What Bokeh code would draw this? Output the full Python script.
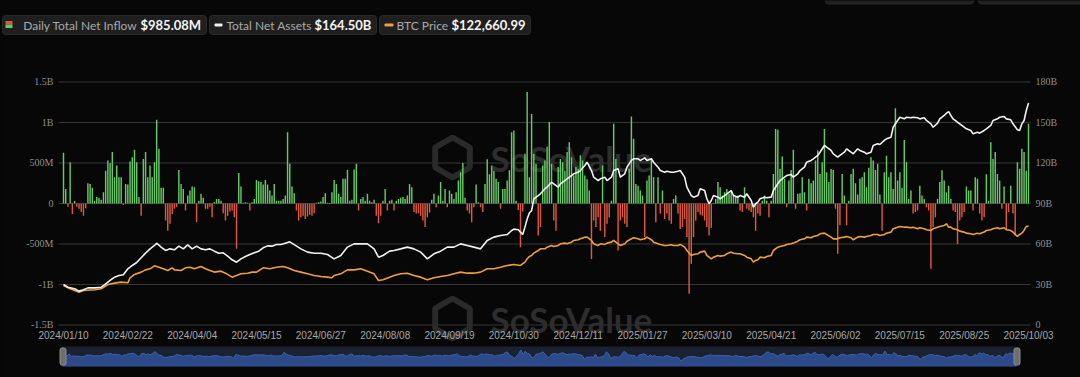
from bokeh.plotting import figure
from bokeh.models import Range1d, LinearAxis, FixedTicker, ColumnDataSource, Label, BoxAnnotation
from bokeh.embed import file_html
from bokeh.resources import INLINE
from bokeh.core.properties import value

# ---------------- data ----------------
date_labels = ["2024/01/10", "2024/02/22", "2024/04/04", "2024/05/15", "2024/06/27",
               "2024/08/08", "2024/09/19", "2024/10/30", "2024/12/11", "2025/01/27",
               "2025/03/10", "2025/04/21", "2025/06/02", "2025/07/15", "2025/08/25",
               "2025/10/03"]

series_names = ["Daily Total Net Inflow", "Total Net Assets", "BTC Price"]

# daily total net inflow, million USD (one value per trading day)
inflow_m = [
    625, 180, -40, 510, -130, 30, -40, -65, -105, -150,
    -60, 250, 240, 195, 35, 80, 70, 45, 140, 405,
    530, 500, 635, 325, 470, 325, 325, -20, 240, 235,
    520, 570, 665, 510, 80, -150, 550, 635, 325, 470,
    325, 510, 1035, 675, 195, 195, -210, -335, -250, -130,
    -65, -40, 415, 240, 180, -85, 100, 160, 210, 200,
    -230, 35, 120, 70, -65, -65, -40, -170, 20, 55,
    55, 35, -120, -210, -150, -100, -85, -170, -560, 375,
    210, 10, 15, 10, -85, 15, 55, 290, 275, 265,
    235, 290, 235, 160, 100, 240, 35, 35, 35, 55,
    100, 880, 490, 210, 125, -85, -210, -170, -150, -190,
    -160, -140, -150, -120, 10, 15, 25, 80, 125, 10,
    5, 140, 290, 240, 120, 80, 305, 305, 415, 35,
    45, 420, 490, -85, 55, 80, 35, 120, 35, 15,
    45, -150, -245, -150, 35, 180, -85, 35, 45, -85,
    35, 55, 70, 80, 55, 100, 240, 200, -105, -125,
    -120, -150, -210, -290, -170, -110, 45, 120, -45, 100,
    265, 35, 180, -45, 160, 120, 55, 140, 285, 385,
    500, 70, -85, -125, -230, -45, 235, 15, -45, -105,
    240, 545, 360, 470, 405, 305, 265, -65, 180, 180,
    285, 410, 880, 900, 35, -80, -540, -100, 615, 1375,
    325, 1105, 610, 490, -395, -290, 470, 530, 700, 1005,
    490, -210, -335, 450, 550, 510, 405, 635, 755, 570,
    345, 450, 430, 595, 530, 345, 300, 160, -685, -210,
    -290, -170, -335, 470, -415, -250, -170, 35, 985, 550,
    -580, -210, -170, -250, -290, 430, 1075, 800, 240, 220,
    160, 100, -415, 285, 345, 550, 325, -230, 325, -125,
    160, -190, -125, -210, -250, 55, 100, -125, -315, -290,
    -190, -415, -1115, -745, -415, -210, -105, -140, -150, -210,
    -290, -395, -300, 5, 55, 265, 200, 100, 140, 180,
    120, 160, 100, 80, 100, -85, -105, 200, -65, -85,
    -105, -170, -335, -125, -150, 35, 100, 35, -170, 35,
    365, 920, 910, 430, 580, 305, -45, 285, 415, 665,
    -65, 120, 125, 325, 140, -85, 305, 250, 285, 530,
    655, 365, 510, 920, 385, 265, 425, 415, -65, -620,
    -270, 365, 100, -270, 35, 365, 430, 250, 110, 305,
    325, 385, 200, 440, 570, 530, 415, 490, 110, -335,
    385, 590, 325, 385, 180, 1175, 285, 385, 195, 785,
    510, 55, 160, -125, -105, -85, 220, 100, 55, -45,
    -85, -805, -290, -170, 55, 265, 410, 285, 140, 220,
    55, -85, -105, -500, -210, -170, -105, 210, 160, 160,
    -85, 325, 305, -125, -210, -170, 360, 35, 755, 550,
    635, 365, 285, -65, 210, -315, -105, 220, -125, -395,
    510, 430, 675, 635, 405, 985.08,
]

# total net assets, billion USD (trading-day index, value)
tna_idx = [0, 2, 5, 7, 9, 11, 14, 17, 19, 21, 23, 25, 27, 29, 31, 33, 35, 37, 39, 41,
           42, 44, 46, 48, 50, 52, 54, 56, 58, 60, 62, 64, 66, 68, 70, 72, 74, 76, 78, 80,
           82, 84, 86, 88, 90, 92, 94, 96, 98, 100, 102, 104, 107, 110, 113, 116, 119, 122, 125, 128,
           131, 134, 137, 140, 142, 144, 147, 149, 152, 155, 158, 161, 164, 167, 170, 173, 176, 179, 182, 185,
           188, 191, 194, 197, 200, 202, 203, 205, 206, 207, 208, 209, 210, 211, 212, 214, 215, 217, 218, 220,
           221, 223, 224, 226, 227, 229, 230, 232, 233, 235, 236, 238, 239, 241, 242, 244, 245, 247, 248, 250,
           251, 253, 254, 256, 257, 259, 260, 262, 263, 265, 266, 268, 269, 271, 272, 274, 275, 277, 278, 280,
           281, 283, 284, 286, 287, 289, 290, 291, 292, 293, 295, 296, 298, 299, 301, 302, 304, 305, 307, 308,
           310, 311, 312, 313, 314, 316, 317, 319, 320, 322, 323, 325, 326, 328, 329, 331, 332, 334, 335, 337,
           338, 340, 341, 343, 344, 346, 347, 349, 350, 352, 353, 355, 356, 358, 359, 361, 362, 364, 365, 367,
           368, 370, 371, 373, 374, 376, 377, 379, 380, 382, 383, 385, 386, 388, 389, 391, 392, 394, 395, 397,
           398, 399, 400, 401, 403, 404, 406, 407, 409, 410, 412, 413, 415, 416, 418, 419, 421, 422, 424, 425,
           427, 428, 430, 431, 432, 433, 434, 435]
tna_b = [30.0, 28.0, 26.8, 25.1, 26.1, 27.5, 27.5, 28.0, 30.5, 33.0, 35.4, 36.7, 37.2, 41.6, 44.1, 46.3, 49.8, 53.2, 56.4, 58.9,
         60.6, 57.7, 55.2, 56.4, 55.7, 58.4, 56.4, 59.4, 56.4, 58.4, 56.4, 55.7, 56.4, 54.7, 53.2, 53.5, 51.0, 48.3, 46.5, 49.0,
         50.7, 52.2, 53.5, 54.7, 57.2, 58.6, 58.4, 59.6, 59.6, 60.6, 61.6, 59.5, 56.4, 54.0, 53.2, 53.2, 52.2, 49.0, 51.5, 57.7,
         60.1, 60.1, 60.1, 56.4, 50.2, 51.5, 54.7, 55.2, 56.4, 57.7, 56.4, 54.0, 49.0, 52.7, 54.7, 57.7, 57.7, 60.1, 58.9, 57.7,
         56.4, 62.6, 65.1, 66.3, 67.0, 70.0, 71.0, 70.6, 68.8, 67.0, 72.5, 78.5, 83.0, 84.8, 93.5, 95.9, 97.2, 100.9, 102.1, 105.8,
         104.6, 102.1, 104.6, 107.0, 108.3, 110.7, 112.0, 113.2, 114.4, 118.1, 120.6, 114.4, 109.5, 107.0, 108.3, 109.5, 107.0, 109.5, 114.4, 115.7,
         109.5, 112.0, 116.9, 121.9, 123.1, 123.1, 121.9, 123.8, 121.9, 123.1, 120.6, 116.9, 114.4, 113.2, 113.9, 113.2, 113.2, 113.9, 114.4, 109.5,
         102.1, 95.9, 94.7, 95.9, 100.9, 99.6, 93.5, 89.8, 92.2, 95.9, 94.7, 93.5, 95.9, 97.2, 99.6, 95.9, 94.7, 95.9, 94.7, 97.2,
         92.2, 87.3, 89.8, 91.0, 93.5, 94.7, 94.2, 94.7, 99.6, 104.6, 107.0, 109.5, 110.7, 111.5, 109.5, 112.0, 114.4, 116.9, 120.6, 121.9,
         123.1, 125.6, 128.0, 133.0, 131.7, 129.3, 126.8, 124.3, 125.6, 128.0, 130.5, 128.0, 126.8, 130.5, 129.3, 128.0, 126.8, 128.0, 133.0, 134.2,
         133.7, 136.7, 137.9, 139.1, 146.5, 151.5, 153.9, 152.7, 153.9, 153.5, 153.9, 153.5, 152.7, 153.5, 151.5, 149.0, 146.5, 149.5, 152.7, 155.2,
         156.9, 158.1, 155.2, 152.7, 150.2, 149.0, 146.5, 145.3, 144.1, 141.6, 142.8, 142.1, 144.1, 145.3, 147.8, 151.5, 152.7, 153.9, 154.4, 152.7,
         152.0, 149.0, 144.6, 144.1, 149.0, 151.5, 158.9, 164.50]

# BTC price, USD (trading-day index, value)
btc_idx = [0, 3, 7, 9, 14, 17, 20, 23, 26, 29, 30, 32, 35, 37, 39, 41, 43, 45, 47, 49,
           50, 53, 55, 57, 59, 62, 64, 66, 68, 71, 73, 76, 78, 80, 83, 85, 87, 90, 93, 96,
           99, 101, 104, 107, 110, 113, 116, 119, 121, 122, 125, 127, 128, 131, 134, 137, 140, 142, 144, 147,
           149, 152, 155, 158, 161, 164, 167, 170, 173, 176, 179, 182, 185, 188, 191, 194, 197, 200, 203, 206,
           208, 209, 210, 211, 212, 214, 215, 217, 218, 220, 221, 223, 224, 226, 227, 229, 230, 232, 233, 235,
           236, 238, 239, 241, 242, 244, 245, 247, 248, 250, 251, 253, 254, 256, 257, 259, 260, 262, 263, 265,
           266, 268, 269, 271, 272, 274, 275, 277, 278, 280, 281, 283, 284, 286, 287, 289, 290, 292, 293, 295,
           296, 298, 299, 301, 302, 304, 305, 307, 308, 310, 311, 312, 313, 314, 316, 317, 319, 320, 322, 323,
           325, 326, 328, 329, 331, 332, 334, 335, 337, 338, 340, 341, 343, 344, 346, 347, 349, 350, 352, 353,
           355, 356, 358, 359, 361, 362, 364, 365, 367, 368, 370, 371, 373, 374, 376, 377, 379, 380, 382, 383,
           385, 386, 388, 389, 391, 392, 394, 395, 397, 398, 399, 400, 401, 403, 404, 406, 407, 409, 410, 412,
           413, 415, 416, 418, 419, 421, 422, 424, 425, 427, 428, 430, 431, 432, 433, 434, 435]
btc_usd = [49400, 45300, 41200, 43200, 44100, 45300, 50600, 52300, 53500, 52700, 58900, 63000, 65900, 68700, 70000, 73700, 72000, 70000, 67900, 71200,
           68700, 67900, 71200, 72000, 70000, 72900, 70000, 67900, 65900, 67100, 64600, 59700, 61700, 63800, 64600, 65900, 65900, 71200, 70000, 72000,
           72900, 71200, 67900, 65900, 63800, 61700, 60500, 59700, 58900, 61700, 63800, 67100, 68700, 68700, 70000, 67100, 63800, 55600, 56400, 59700,
           61700, 63800, 64600, 61700, 59700, 56400, 58900, 60500, 61700, 63800, 65900, 64600, 64600, 65900, 70000, 70000, 72000, 74100, 75300, 74100,
           78200, 82300, 85200, 86500, 89300, 92600, 94700, 94700, 96700, 98800, 97600, 98800, 100900, 101700, 100900, 102900, 105000, 105800, 107000, 109100,
           109100, 105000, 100900, 98800, 100900, 100100, 101700, 102900, 105000, 100900, 98800, 100900, 104100, 107000, 108300, 107000, 105800, 107000, 109100, 105800,
           102900, 100900, 100100, 98800, 98800, 99600, 98800, 98800, 100100, 96700, 92600, 86500, 87700, 88500, 90600, 91800, 86500, 82300, 84400, 86500,
           85600, 86500, 88500, 90600, 89300, 88500, 88500, 86500, 84400, 82300, 78200, 80300, 81100, 84400, 83600, 85200, 86500, 92600, 96700, 97600,
           98800, 100100, 100900, 101700, 104100, 105800, 107000, 109100, 108300, 109900, 111200, 113200, 114000, 112400, 109100, 107000, 107000, 108300, 109100, 109900,
           108300, 105800, 109100, 109900, 109100, 109900, 111200, 112400, 112400, 111200, 112400, 114000, 115300, 119400, 121400, 122300, 121400, 121400, 120600, 121400,
           119400, 120600, 119400, 118200, 117300, 119400, 121400, 122300, 123500, 125600, 121400, 121400, 119400, 118200, 116500, 115300, 114000, 113200, 112400, 114000,
           113200, 115300, 117300, 118200, 119400, 120600, 119400, 120600, 118200, 117300, 115300, 109900, 112400, 114000, 117300, 122300, 122660.99]

left_ticks_m = [-1500, -1000, -500, 0, 500, 1000, 1500]
left_tick_labels = ["-1.5B", "-1B", "-500M", "0", "500M", "1B", "1.5B"]
right_ticks_b = [0, 30, 60, 90, 120, 150, 180]
right_tick_labels = ["0", "30B", "60B", "90B", "120B", "150B", "180B"]

# ---------------- style ----------------
BG = "#070707"
GREEN = "#66c966"
RED = "#dc5840"
WHITE = "#f2f2f2"
ORANGE = "#f0a03a"
GRID = "#383838"
TICK_TXT = "#8e8e8e"
XTICK_TXT = "#a8a8a8"
BOX = "#1f1f1f"

N = len(inflow_m)
xs = list(range(N))

# The frame covers the whole 1080x377 canvas; axes are pinned with fixed_location.
# chart area: page x 58..1030, page y 82..325; bar 0 at x=63, bar N-1 at x=1028
p = figure(width=1080, height=377,
           x_range=Range1d(-28.40, 458.44), y_range=Range1d(-2148.15, 2506.17),
           output_backend="svg", toolbar_location=None,
           background_fill_color=BG, border_fill_color=BG, outline_line_color=None,
           min_border_left=0, min_border_right=0, min_border_top=0, min_border_bottom=0)
p.extra_y_ranges = {"tna": Range1d(-38.89, 240.37), "btc": Range1d(-64197.5, 401235),
                    "nav": Range1d(-4930, 81780), "py": Range1d(377, 0)}
p.extra_x_ranges = {"navx": Range1d(-28.27, 464.18), "px": Range1d(0, 1080)}

CHART_L, CHART_R = -2.254, 435.9   # chart-area edges in bar-index units

# axes
yl = p.yaxis[0]
yl.fixed_location = CHART_L
yl.ticker = FixedTicker(ticks=left_ticks_m)
yl.major_label_overrides = dict(zip(left_ticks_m, left_tick_labels))
yr = LinearAxis(y_range_name="tna", ticker=FixedTicker(ticks=right_ticks_b),
                major_label_overrides=dict(zip(right_ticks_b, right_tick_labels)))
yr.fixed_location = CHART_R
p.add_layout(yr, "right")
for ax in (yl, yr):
    ax.axis_line_color = None
    ax.major_tick_line_color = None
    ax.minor_tick_line_color = None
    ax.major_tick_out = 0
    ax.major_tick_in = 0
    ax.major_label_standoff = 5
    ax.major_label_text_font = "Liberation Serif"
    ax.major_label_text_font_size = "10px"
    ax.major_label_text_color = TICK_TXT

label_pos = [round(k * (N - 1) / (len(date_labels) - 1)) for k in range(len(date_labels))]
xa = p.xaxis[0]
xa.fixed_location = left_ticks_m[0]
xa.ticker = FixedTicker(ticks=label_pos)
xa.major_label_overrides = dict(zip(label_pos, date_labels))
xa.axis_line_color = None
xa.major_tick_line_color = None
xa.minor_tick_line_color = None
xa.major_tick_out = 0
xa.major_tick_in = 0
xa.major_label_standoff = 5
xa.major_label_text_font = "Liberation Sans"
xa.major_label_text_font_size = "10px"
xa.major_label_text_color = XTICK_TXT

# grid lines limited to the chart area
p.xgrid.visible = False
p.ygrid.visible = False
p.segment(x0=[CHART_L] * len(left_ticks_m), x1=[CHART_R] * len(left_ticks_m),
          y0=left_ticks_m, y1=left_ticks_m, line_color=GRID, line_width=1)

# watermark (page-pixel ranges)
p.scatter(x=[452, 452], y=[157, 318], x_range_name="px", y_range_name="py", marker="hex",
          size=40, angle=0.5236, fill_color=None, line_color="#2a2a2a", line_width=6)
p.text(x=[490, 490], y=[157, 318], x_range_name="px", y_range_name="py",
       text=["SoSoValue", "SoSoValue"], text_font=value("Lato"), text_font_size="35px",
       text_font_style="bold", text_color="#2d2d2d", text_baseline="middle", text_align="left")

# bars and lines
src = ColumnDataSource(dict(x=xs, v=inflow_m, c=[GREEN if v >= 0 else RED for v in inflow_m]))
p.vbar(x="x", top="v", bottom=0, width=0.65, fill_color="c", line_color=None, source=src)
p.line(x=btc_idx, y=btc_usd, y_range_name="btc", line_color=ORANGE, line_width=1.6)
p.line(x=tna_idx, y=tna_b, y_range_name="tna", line_color=WHITE, line_width=1.6)

# navigator (data-zoom strip)
p.quad(left=[61], right=[1016], top=[346], bottom=[366], x_range_name="px", y_range_name="py",
       fill_color="#1a2131", line_color=None)
p.varea(x=xs, y1=[-2400] * N, y2=inflow_m, x_range_name="navx", y_range_name="nav",
        fill_color="#2c4a8a")
p.line(x=xs, y=inflow_m, x_range_name="navx", y_range_name="nav", line_color="#4061a8", line_width=1)
p.quad(left=[59.5, 1013.5], right=[65.5, 1019.5], top=[347.5, 347.5], bottom=[364.5, 364.5],
       x_range_name="px", y_range_name="py", fill_color="#6e6e6e", line_color="#8c8c8c",
       line_width=1, border_radius=2)

# header legend and top-right controls (page-pixel ranges)
val_texts = [f"${inflow_m[-1]:,.2f}M", f"${tna_b[-1]:,.2f}B", f"${btc_usd[-1]:,.2f}"]
for (l, r, t, b) in [(2, 206, 15, 34), (209, 376, 15, 34), (379, 530, 15, 34),
                     (825, 973, -6, 3.5), (978, 1086, -6, 3.5)]:
    p.add_layout(BoxAnnotation(left=l, right=r, top=t, bottom=b, x_range_name="px", y_range_name="py",
                               fill_color=BOX, fill_alpha=1, line_color="#2a2a2a", line_alpha=1,
                               border_radius=3))
p.add_layout(BoxAnnotation(left=5, right=12, top=20.5, bottom=24, x_range_name="px", y_range_name="py",
                           fill_color=RED, fill_alpha=1, line_color=None))
p.add_layout(BoxAnnotation(left=5, right=12, top=24, bottom=27.5, x_range_name="px", y_range_name="py",
                           fill_color=GREEN, fill_alpha=1, line_color=None))
p.add_layout(BoxAnnotation(left=214, right=222, top=23, bottom=26, x_range_name="px", y_range_name="py",
                           fill_color=WHITE, fill_alpha=1, line_color=None, border_radius=1))
p.add_layout(BoxAnnotation(left=384, right=393, top=23, bottom=26, x_range_name="px", y_range_name="py",
                           fill_color=ORANGE, fill_alpha=1, line_color=None, border_radius=1))
for name, x0 in zip(series_names, [22.7, 226, 396]):
    p.add_layout(Label(x=x0, y=24.5, x_range_name="px", y_range_name="py", text=name,
                       text_font="Lato", text_font_size="12px", text_color="#a9a9a9",
                       text_baseline="middle", text_align="left"))
for vt, x0 in zip(val_texts, [140, 314, 451]):
    p.add_layout(Label(x=x0, y=24.5, x_range_name="px", y_range_name="py", text=vt,
                       text_font="Lato", text_font_size="13px", text_font_style="bold",
                       text_color="#f4f4f4", text_baseline="middle", text_align="left"))

html = file_html(p, INLINE, title="Bitcoin Spot ETF")
html = html.replace("</head>", "<style>html, body { background-color: #070707; }</style></head>", 1)
open("out.html", "w").write(html)
